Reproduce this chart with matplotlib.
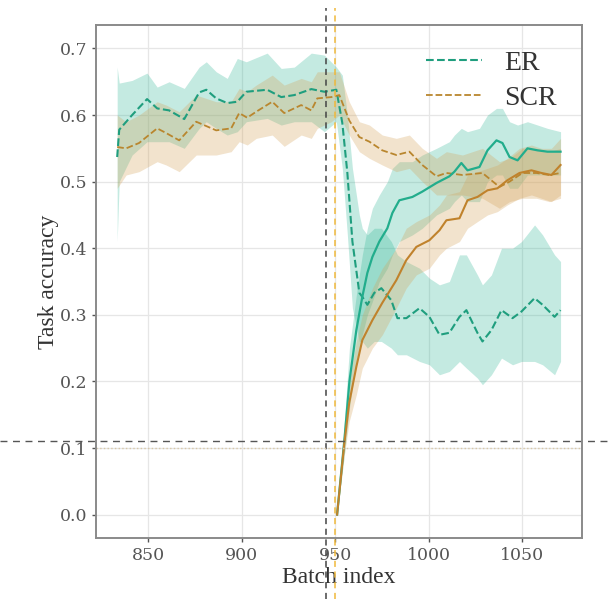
import numpy as np
import matplotlib
matplotlib.use("Agg")
import matplotlib.pyplot as plt

# ER, accuracy on the old task (dashed) with its band
er_old_x = [833.3, 834.4, 841.3, 849.3, 854.7, 861.1, 869.2, 877.2, 881.0, 886.3,
            892.2, 897.6, 902.4, 913.6, 921.1, 928.1, 937.2, 944.2, 950.6, 953.8,
            956.5, 959.2, 962.9, 964.5, 967.2, 970.9, 974.7, 980.0, 983.3, 988.1,
            995.1, 1000.4, 1005.8, 1011.1, 1016.5, 1020.2, 1026.1, 1028.8, 1033.6, 1039.0,
            1044.9, 1049.7, 1056.7, 1061.0, 1067.4, 1070.6]
er_old_y = [0.537, 0.578, 0.600, 0.624, 0.610, 0.607, 0.594, 0.634, 0.638, 0.625,
            0.618, 0.620, 0.635, 0.638, 0.627, 0.630, 0.639, 0.635, 0.638, 0.588,
            0.513, 0.410, 0.333, 0.327, 0.315, 0.333, 0.340, 0.322, 0.295, 0.295,
            0.310, 0.297, 0.270, 0.273, 0.297, 0.307, 0.273, 0.260, 0.277, 0.307,
            0.295, 0.305, 0.325, 0.315, 0.297, 0.307]
er_old_lo = [0.41, 0.50, 0.54, 0.56, 0.56, 0.56, 0.55, 0.58, 0.59, 0.58,
             0.57, 0.575, 0.59, 0.595, 0.585, 0.59, 0.59, 0.575, 0.59, 0.52,
             0.42, 0.31, 0.26, 0.26, 0.25, 0.26, 0.26, 0.25, 0.24, 0.24,
             0.23, 0.225, 0.21, 0.215, 0.23, 0.22, 0.205, 0.195, 0.21, 0.235,
             0.225, 0.23, 0.23, 0.225, 0.21, 0.23]
er_old_hi = [0.672, 0.648, 0.652, 0.663, 0.642, 0.65, 0.64, 0.672, 0.68, 0.665,
             0.655, 0.685, 0.68, 0.693, 0.67, 0.672, 0.693, 0.69, 0.672, 0.66,
             0.60, 0.52, 0.45, 0.43, 0.42, 0.43, 0.43, 0.41, 0.39, 0.38,
             0.37, 0.355, 0.345, 0.35, 0.39, 0.39, 0.36, 0.345, 0.36, 0.40,
             0.40, 0.41, 0.435, 0.42, 0.39, 0.38]

# ER, accuracy on the new task (solid)
er_new_x = [951.0, 954.9, 957.6, 961.3, 964.5, 967.2, 969.9, 973.6, 977.9, 980.6,
            984.3, 991.3, 996.6, 1004.2, 1011.1, 1013.8, 1017.5, 1020.8, 1027.2, 1031.5,
            1036.3, 1039.5, 1043.3, 1047.6, 1052.9, 1058.3, 1063.6, 1070.6]
er_new_y = [0.0, 0.112, 0.200, 0.277, 0.327, 0.363, 0.387, 0.410, 0.430, 0.453,
            0.472, 0.477, 0.485, 0.498, 0.508, 0.515, 0.528, 0.517, 0.522, 0.547,
            0.562, 0.558, 0.537, 0.532, 0.550, 0.547, 0.545, 0.545]
er_new_lo = [0.0, 0.09, 0.16, 0.23, 0.27, 0.30, 0.32, 0.35, 0.37, 0.39,
             0.41, 0.42, 0.43, 0.45, 0.46, 0.47, 0.48, 0.47, 0.47, 0.50,
             0.51, 0.51, 0.49, 0.49, 0.51, 0.51, 0.51, 0.51]
er_new_hi = [0.0, 0.14, 0.25, 0.33, 0.39, 0.43, 0.46, 0.48, 0.50, 0.52,
             0.53, 0.53, 0.54, 0.55, 0.56, 0.57, 0.58, 0.575, 0.58, 0.60,
             0.61, 0.61, 0.59, 0.585, 0.59, 0.585, 0.58, 0.575]

# SCR, old task (dashed)
scr_old_x = [833.3, 838.1, 845.0, 854.7, 859.5, 866.5, 875.6, 886.3, 894.3, 898.6,
             902.9, 907.7, 916.3, 922.7, 931.8, 937.2, 940.4, 947.9, 952.2, 957.5,
             962.9, 968.3, 975.2, 982.7, 989.7, 996.6, 1004.2, 1009.5, 1018.1, 1028.8,
             1037.9, 1043.3, 1050.2, 1057.7, 1064.6, 1070.6]
scr_old_y = [0.552, 0.550, 0.558, 0.580, 0.573, 0.562, 0.590, 0.577, 0.580, 0.603,
             0.596, 0.605, 0.620, 0.603, 0.615, 0.607, 0.625, 0.627, 0.630, 0.592,
             0.567, 0.560, 0.547, 0.540, 0.545, 0.525, 0.508, 0.513, 0.510, 0.513,
             0.492, 0.500, 0.513, 0.513, 0.510, 0.513]
scr_old_lo = [0.49, 0.51, 0.515, 0.53, 0.525, 0.515, 0.54, 0.54, 0.545, 0.56,
              0.555, 0.565, 0.57, 0.553, 0.57, 0.565, 0.58, 0.59, 0.60, 0.57,
              0.545, 0.535, 0.525, 0.515, 0.52, 0.50, 0.48, 0.48, 0.48, 0.475,
              0.46, 0.47, 0.475, 0.475, 0.47, 0.475]
scr_old_hi = [0.60, 0.59, 0.60, 0.62, 0.615, 0.605, 0.63, 0.62, 0.62, 0.64,
              0.635, 0.645, 0.66, 0.645, 0.655, 0.65, 0.665, 0.665, 0.665, 0.62,
              0.59, 0.585, 0.57, 0.565, 0.57, 0.55, 0.535, 0.545, 0.54, 0.55,
              0.53, 0.535, 0.55, 0.55, 0.545, 0.55]

# SCR, new task (solid)
scr_new_x = [951.0, 954.9, 957.5, 961.3, 964.5, 969.9, 975.2, 982.7, 988.0, 993.4,
             1000.4, 1005.8, 1009.5, 1016.5, 1020.8, 1026.1, 1031.5, 1036.8, 1042.1, 1048.6,
             1055.0, 1060.4, 1065.7, 1070.6]
scr_new_y = [0.0, 0.108, 0.168, 0.222, 0.262, 0.292, 0.318, 0.352, 0.382, 0.402,
             0.412, 0.427, 0.442, 0.445, 0.472, 0.477, 0.487, 0.490, 0.502, 0.513,
             0.517, 0.513, 0.510, 0.525]
scr_new_lo = [0.0, 0.09, 0.14, 0.18, 0.22, 0.25, 0.27, 0.31, 0.34, 0.36,
              0.37, 0.39, 0.40, 0.41, 0.43, 0.44, 0.45, 0.455, 0.465, 0.475,
              0.48, 0.475, 0.47, 0.48]
scr_new_hi = [0.0, 0.13, 0.20, 0.26, 0.30, 0.34, 0.37, 0.40, 0.43, 0.44,
              0.45, 0.465, 0.48, 0.485, 0.51, 0.515, 0.52, 0.525, 0.535, 0.55,
              0.555, 0.55, 0.55, 0.565]

task_switch = 950
boundary = 945
chance = 0.1
threshold = 0.11

er_color = "#1f9e7e"
scr_color = "#b9862e"

fig = plt.figure(figsize=(6.08, 5.99), dpi=100)
ax = fig.add_axes([0.158, 0.102, 0.799, 0.856])

ax.fill_between(er_old_x, er_old_lo, er_old_hi, color="#2bb594", alpha=0.28, lw=0)
ax.fill_between(er_new_x, er_new_lo, er_new_hi, color="#2bb594", alpha=0.28, lw=0)
ax.fill_between(scr_old_x, scr_old_lo, scr_old_hi, color="#d4a35a", alpha=0.3, lw=0)
ax.fill_between(scr_new_x, scr_new_lo, scr_new_hi, color="#d4a35a", alpha=0.3, lw=0)

ax.plot(er_old_x, er_old_y, color=er_color, ls="--", lw=1.5, label="ER")
ax.plot(scr_old_x, scr_old_y, color=scr_color, ls="--", lw=1.3, label="SCR")
ax.plot(er_new_x, er_new_y, color="#22ad8c", lw=1.6)
ax.plot(scr_new_x, scr_new_y, color="#c0822c", lw=1.5)

# reference lines reaching outside the axes
ax.axvline(boundary, ymin=-0.119, ymax=1.033, color="#444444", ls=(0, (4, 3)),
           lw=1.1, clip_on=False)
ax.axvline(task_switch, ymin=-0.119, ymax=1.033, color="#f0b93c", ls=(0, (4, 3)),
           lw=1.1, clip_on=False)
ax.axhline(threshold, xmin=-0.198, xmax=1.053, color="#555555", ls=(0, (5, 4)),
           lw=1.0, clip_on=False)
ax.axhline(chance, color="#d8c8a8", ls=":", lw=1.0)

ax.set_xlim(822, 1082)
ax.set_ylim(-0.035, 0.735)
ax.set_xticks([850, 900, 950, 1000, 1050])
ax.set_yticks([0.0, 0.1, 0.2, 0.3, 0.4, 0.5, 0.6, 0.7])
ax.set_yticklabels(["0.0", "0.1", "0.2", "0.3", "0.4", "0.5", "0.6", "0.7"])
ax.grid(True, color="#e6e6e6", lw=0.9)
ax.set_axisbelow(True)

for s in ax.spines.values():
    s.set_color("#8a8a8a")
    s.set_linewidth(1.4)
ax.tick_params(labelsize=12.5, colors="#555555", length=3, width=1)
for lab in ax.get_xticklabels() + ax.get_yticklabels():
    lab.set_family("DejaVu Serif")

ax.set_xlabel("Batch index", family="Liberation Serif", fontsize=17, color="#333333",
              labelpad=2)
ax.set_ylabel("Task accuracy", family="Liberation Serif", fontsize=17, color="#333333",
              labelpad=0)

leg = ax.legend(loc="upper right", frameon=False,
                prop={"family": "Liberation Serif", "size": 20},
                handlelength=2.0, labelspacing=0.35)
for t in leg.get_texts():
    t.set_color("#333333")

fig.savefig("out.png", dpi=100)
